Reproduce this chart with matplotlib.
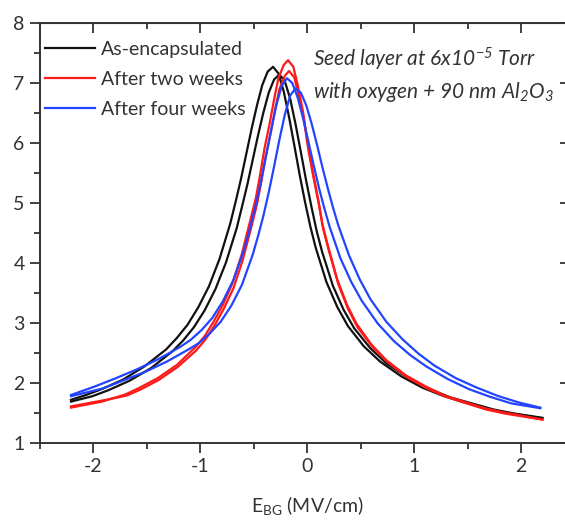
import matplotlib
matplotlib.use("Agg")
import matplotlib.pyplot as plt
from matplotlib.ticker import MultipleLocator

plt.rcParams["font.family"] = ["Lato", "DejaVu Sans"]
plt.rcParams["mathtext.default"] = "regular"
plt.rcParams["axes.unicode_minus"] = False

# --- sweep data, E_BG (MV/cm) vs signal, two sweeps per condition ---
encap_up_x = [-2.21, -2.07, -1.92, -1.72, -1.52, -1.32, -1.22, -1.12, -1.02, -0.92, -0.82, -0.72,
              -0.67, -0.62, -0.57, -0.52, -0.47, -0.42, -0.37, -0.32,
              -0.27, -0.22, -0.17, -0.12, -0.07, -0.02, 0.03, 0.08, 0.18, 0.28, 0.38, 0.53,
              0.68, 0.88, 1.08, 1.28, 1.48, 1.68, 1.88, 2.2]
encap_up_y = [1.72, 1.80, 1.90, 2.06, 2.28, 2.56, 2.75, 2.97, 3.26, 3.61, 4.07, 4.66,
              5.02, 5.40, 5.82, 6.24, 6.63, 6.97, 7.19, 7.27,
              7.16, 6.86, 6.43, 5.95, 5.46, 5.01, 4.60, 4.25, 3.68, 3.27, 2.95, 2.61,
              2.36, 2.11, 1.92, 1.78, 1.67, 1.57, 1.50, 1.41]

encap_down_x = [-2.21, -2.01, -1.86, -1.66, -1.46, -1.26, -1.16, -1.06, -0.96, -0.86, -0.76, -0.66,
                -0.61, -0.56, -0.51, -0.46, -0.41, -0.36, -0.31, -0.26,
                -0.21, -0.16, -0.11, -0.06, -0.01, 0.04, 0.09, 0.14, 0.24, 0.34, 0.44, 0.59,
                0.74, 0.94, 1.14, 1.34, 1.54, 1.74, 1.94, 2.2]
encap_down_y = [1.69, 1.78, 1.88, 2.04, 2.25, 2.53, 2.71, 2.93, 3.21, 3.56, 4.01, 4.58,
                4.94, 5.31, 5.72, 6.13, 6.51, 6.84, 7.06, 7.14,
                7.03, 6.74, 6.32, 5.85, 5.37, 4.93, 4.52, 4.18, 3.62, 3.22, 2.91, 2.58,
                2.33, 2.09, 1.90, 1.76, 1.66, 1.56, 1.49, 1.42]

two_wk_up_x = [-2.21, -1.92, -1.70, -1.57, -1.40, -1.22, -1.05, -0.96, -0.88, -0.79, -0.70, -0.615,
               -0.53, -0.48, -0.44, -0.40, -0.35, -0.31, -0.27, -0.22, -0.18,
               -0.13, -0.09, -0.04, 0.0, 0.05, 0.10, 0.14, 0.19, 0.28, 0.37, 0.46, 0.60,
               0.74, 0.92, 1.11, 1.29, 1.48, 1.66, 1.84, 2.2]
two_wk_up_y = [1.59, 1.69, 1.81, 1.92, 2.08, 2.30, 2.59, 2.78, 3.01, 3.30, 3.66, 4.13,
               4.73, 5.09, 5.48, 5.91, 6.34, 6.73, 7.08, 7.30, 7.38,
               7.27, 6.97, 6.53, 6.04, 5.54, 5.08, 4.66, 4.31, 3.73, 3.31, 2.99, 2.64,
               2.38, 2.13, 1.94, 1.79, 1.68, 1.58, 1.51, 1.39]

two_wk_down_x = [-2.21, -1.91, -1.69, -1.56, -1.39, -1.21, -1.04, -0.95, -0.87, -0.78, -0.69, -0.605,
                 -0.52, -0.47, -0.43, -0.39, -0.34, -0.30, -0.26, -0.21, -0.17,
                 -0.12, -0.08, -0.03, 0.01, 0.06, 0.11, 0.15, 0.20, 0.29, 0.38, 0.47, 0.61,
                 0.75, 0.93, 1.12, 1.30, 1.49, 1.67, 1.85, 2.2]
two_wk_down_y = [1.61, 1.71, 1.79, 1.89, 2.05, 2.27, 2.54, 2.73, 2.95, 3.24, 3.58, 4.04,
                 4.62, 4.98, 5.35, 5.77, 6.18, 6.57, 6.90, 7.12, 7.20,
                 7.09, 6.79, 6.37, 5.89, 5.41, 4.97, 4.56, 4.22, 3.65, 3.24, 2.93, 2.60,
                 2.35, 2.10, 1.91, 1.77, 1.66, 1.56, 1.49, 1.39]

four_wk_up_x = [-2.21, -1.99, -1.79, -1.59, -1.39, -1.19, -1.09, -0.99, -0.89, -0.79, -0.69, -0.59,
                -0.54, -0.49, -0.44, -0.39, -0.34, -0.29, -0.24, -0.19,
                -0.14, -0.09, -0.04, 0.01, 0.06, 0.11, 0.16, 0.21, 0.31, 0.41, 0.51, 0.66,
                0.81, 0.96, 1.11, 1.31, 1.51, 1.71, 1.91, 2.18]
four_wk_up_y = [1.80, 1.94, 2.08, 2.23, 2.40, 2.60, 2.72, 2.88, 3.08, 3.36, 3.72, 4.23,
                4.55, 4.90, 5.30, 5.74, 6.20, 6.62, 6.95, 7.08,
                7.00, 6.76, 6.42, 6.03, 5.63, 5.25, 4.91, 4.60, 4.08, 3.69, 3.37, 2.99,
                2.70, 2.47, 2.28, 2.07, 1.90, 1.77, 1.66, 1.58]

four_wk_down_x = [-2.21, -1.91, -1.71, -1.51, -1.31, -1.11, -1.01, -0.91, -0.81, -0.71, -0.61, -0.51,
                  -0.46, -0.41, -0.36, -0.31, -0.26, -0.21, -0.16, -0.11,
                  -0.06, -0.01, 0.04, 0.09, 0.14, 0.19, 0.24, 0.29, 0.39, 0.49, 0.59, 0.74,
                  0.89, 1.04, 1.19, 1.39, 1.59, 1.79, 1.99, 2.18]
four_wk_down_y = [1.78, 1.91, 2.05, 2.19, 2.36, 2.56, 2.67, 2.83, 3.02, 3.29, 3.64, 4.14,
                  4.45, 4.79, 5.18, 5.61, 6.06, 6.47, 6.79, 6.91,
                  6.84, 6.63, 6.33, 5.98, 5.61, 5.26, 4.93, 4.63, 4.13, 3.73, 3.40, 3.02,
                  2.73, 2.49, 2.29, 2.08, 1.92, 1.78, 1.67, 1.59]

labels = ["As-encapsulated", "After two weeks", "After four weeks"]
colors = ["#111111", "#ff1a1a", "#2244ff"]
text_col = "#333333"

fig = plt.figure(figsize=(5.65, 5.23), dpi=100)
ax = fig.add_axes([40 / 565, 80 / 523, 534.5 / 565, 420 / 523])

sweeps = [(encap_up_x, encap_up_y, encap_down_x, encap_down_y),
          (two_wk_up_x, two_wk_up_y, two_wk_down_x, two_wk_down_y),
          (four_wk_up_x, four_wk_up_y, four_wk_down_x, four_wk_down_y)]
for (ux, uy, dx, dy), lab, c in zip(sweeps, labels, colors):
    ax.plot(ux, uy, color=c, lw=1.6, label=lab)
    ax.plot(dx, dy, color=c, lw=1.6)

ax.set_xlim(-2.5, 2.5)
ax.set_ylim(1, 8)
ax.xaxis.set_major_locator(MultipleLocator(1))
ax.xaxis.set_minor_locator(MultipleLocator(0.5))
ax.yaxis.set_major_locator(MultipleLocator(1))
ax.yaxis.set_minor_locator(MultipleLocator(0.5))
ax.tick_params(which="both", direction="out", colors=text_col, labelsize=14, width=1.3)
ax.tick_params(which="major", length=7, pad=4)
ax.tick_params(which="minor", length=4)
for sp in ax.spines.values():
    sp.set_color(text_col)
    sp.set_linewidth(1.4)

# mirrored ticks pointing inward on top and right
top = ax.secondary_xaxis("top")
top.xaxis.set_major_locator(MultipleLocator(1))
top.xaxis.set_minor_locator(MultipleLocator(0.5))
top.tick_params(which="both", direction="in", labeltop=False, colors=text_col, width=1.3)
top.tick_params(which="major", length=7)
top.tick_params(which="minor", length=4)
top.spines["top"].set_color(text_col)
right = ax.secondary_yaxis("right")
right.yaxis.set_major_locator(MultipleLocator(1))
right.tick_params(direction="in", length=11, labelright=False, colors=text_col, width=1.3)

ax.legend(loc="upper left", bbox_to_anchor=(0.009, 0.957), frameon=False, fontsize=14,
          handlelength=2.6, handletextpad=0.3, labelspacing=0.66, borderpad=0,
          borderaxespad=0, labelcolor=text_col)

ax.text(0.05, 7.28, "Seed layer at 6x10$^{-5}$ Torr", fontsize=15, style="italic",
        color=text_col, va="baseline")
ax.text(0.05, 6.75, "with oxygen + 90 nm Al$_2$O$_3$", fontsize=15, style="italic",
        color=text_col, va="baseline")

fig.text(307 / 565, 1 - 512 / 523, "E$_{BG}$ (MV/cm)", fontsize=14, color=text_col,
         ha="center", va="baseline")

fig.savefig("out.png", dpi=100)
